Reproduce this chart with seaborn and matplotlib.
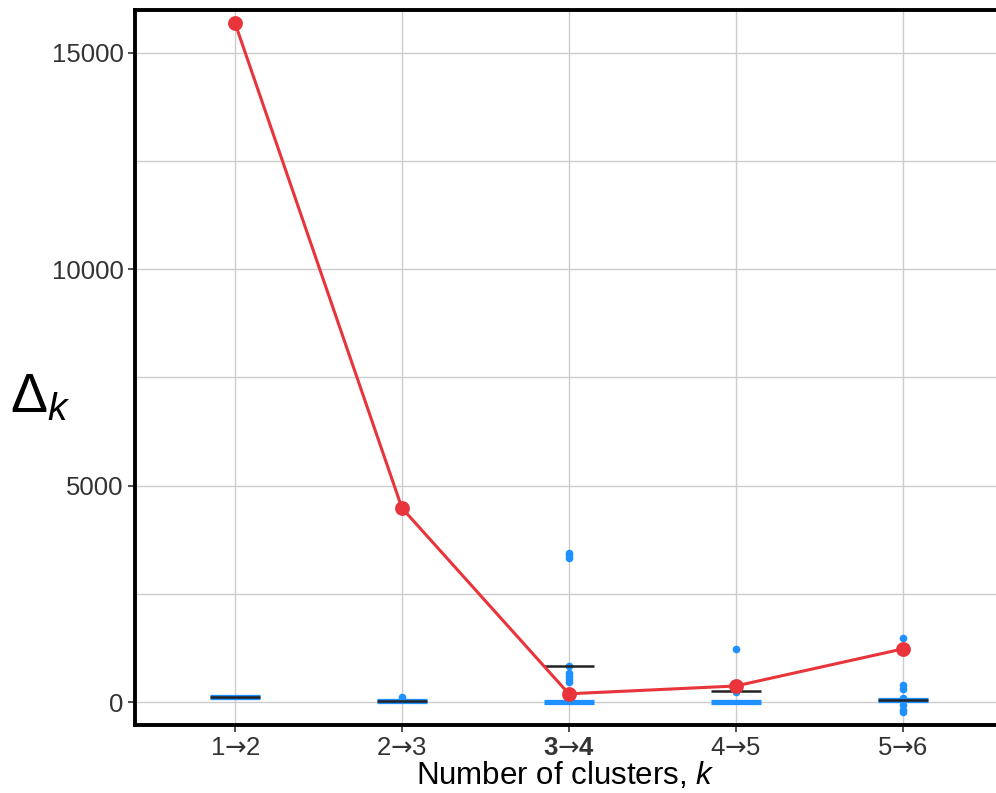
import numpy as np
import pandas as pd
import matplotlib
matplotlib.use("Agg")
import matplotlib.pyplot as plt
import seaborn as sns

# ---- data ----
transitions = ["1→2", "2→3", "3→4", "4→5", "5→6"]
delta_k = [15680, 4480, 190, 370, 1225]
median_vals = [115, 25, 0, 0, 40]
black_vals = [115, 25, 830, 250, 40]
outlier_cat = ["2→3", "3→4", "3→4", "3→4", "3→4", "3→4", "3→4", "3→4", "3→4",
               "4→5", "4→5", "5→6", "5→6", "5→6", "5→6", "5→6", "5→6", "5→6"]
outlier_val = [115, 3330, 3390, 3440, 830, 680, 600, 530, 460,
               1215, 230, 1480, 390, 300, 90, -70, -180, -230]

sns.set_theme(style="whitegrid")
plt.rcParams['font.family'] = ['Liberation Sans', 'DejaVu Sans']
plt.rcParams['mathtext.fontset'] = 'custom'
plt.rcParams['mathtext.rm'] = 'Liberation Sans'
plt.rcParams['mathtext.it'] = 'Liberation Sans:italic'
plt.rcParams['mathtext.bf'] = 'Liberation Sans:bold'
plt.rcParams['mathtext.sf'] = 'DejaVu Sans'

fig = plt.figure(figsize=(9.96, 7.93), dpi=100)
ax = fig.add_axes([0.1355, 0.0858, 0.8645, 0.9016])

df_line = pd.DataFrame({"transition": transitions, "delta": delta_k})
df_out = pd.DataFrame({"transition": outlier_cat, "value": outlier_val})

blue = "#1E90FF"
red = "#E8343A"

# outliers
sns.stripplot(data=df_out, x="transition", y="value", order=transitions,
              jitter=False, color=blue, size=5.5, linewidth=0, ax=ax, zorder=3)

idx = np.arange(len(transitions))
ax.hlines(median_vals, idx - 0.15, idx + 0.15, color=blue, lw=3.8, zorder=3)
ax.hlines(black_vals, idx - 0.15, idx + 0.15, color="#222222", lw=1.8, zorder=4)

sns.pointplot(data=df_line, x="transition", y="delta", order=transitions,
              color=red, markers="o", markersize=9, linewidth=2.2, ax=ax, zorder=5)

ax.set_xlim(-0.6, 4.56)
ax.set_ylim(-530, 15985)
ax.set_yticks([0, 5000, 10000, 15000])
ax.set_yticks([2500, 7500, 12500], minor=True)
ax.grid(True, which="major", color="#cccccc", lw=1.0)
ax.grid(True, which="minor", axis="y", color="#cccccc", lw=1.0)
ax.set_axisbelow(True)

ax.set_xticks(idx)
ax.set_xticklabels([t.replace("→", "$\\mathsf{→}$") for t in transitions])
for lab in ax.get_xticklabels():
    if lab.get_text().startswith("3"):
        lab.set_fontweight("bold")

ax.tick_params(axis="both", which="major", labelsize=18.5, length=5, width=1.2,
               color="#333333", labelcolor="#333333", left=True, bottom=True, pad=3)
ax.tick_params(axis="y", which="minor", left=False)

ax.set_xlabel("Number of clusters, $k$", fontsize=22.5, color="black", labelpad=0)
ax.set_ylabel("$\\Delta_k$", fontsize=40, rotation=0, color="black", labelpad=0)
ax.yaxis.set_label_coords(-0.11, 0.42)

for s in ["left", "top", "bottom"]:
    ax.spines[s].set_visible(True)
    ax.spines[s].set_color("black")
    ax.spines[s].set_linewidth(2.8)
ax.spines["right"].set_visible(False)
ax.set_facecolor("white")

fig.savefig("out.png", dpi=100, facecolor="white")
